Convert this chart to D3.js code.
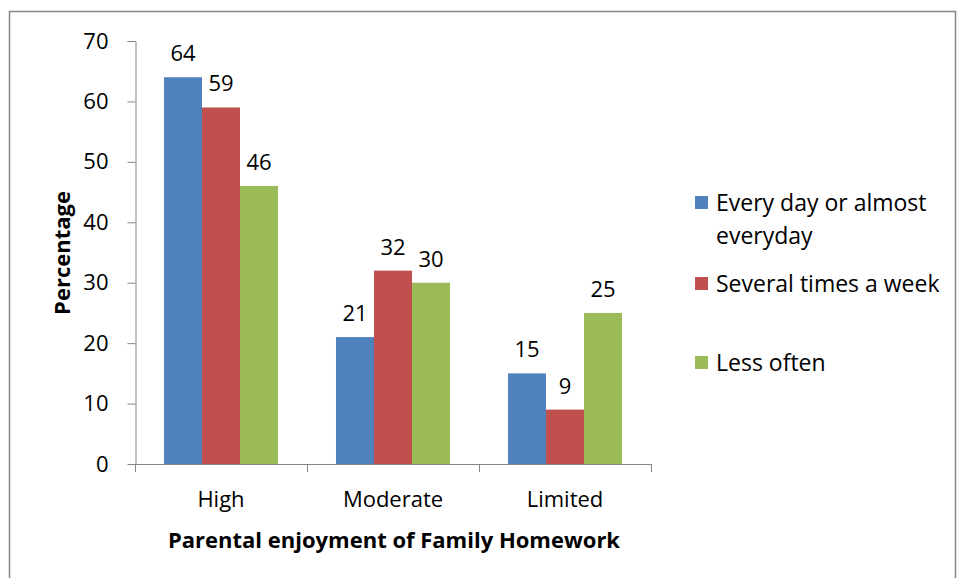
<!DOCTYPE html>
<html><head><meta charset="utf-8">
<script src="https://cdn.jsdelivr.net/npm/d3@7"></script>
<style>body{margin:0;background:#fff}text{font-family:"Open Sans",sans-serif}</style>
</head><body><svg id="c" width="959" height="578"></svg>
<script>
const categories = ["High","Moderate","Limited"];
const seriesNames = ["Every day or almost everyday","Several times a week","Less often"];
const everyDay = [64,21,15];
const severalTimes = [59,32,9];
const lessOften = [46,30,25];
const yTicks = [0,10,20,30,40,50,60,70];
const colors = ["#4F81BD","#C0504D","#9BBB59"];
const series = [everyDay, severalTimes, lessOften];

const svg = d3.select("#c");
svg.append("rect").attr("x",9.5).attr("y",11.5).attr("width",946).attr("height",580)
  .attr("fill","none").attr("stroke","#868686").attr("stroke-width",1.5);

const x0 = d3.scaleBand().domain(categories).range([135,651]).paddingInner(0.337).paddingOuter(0.1685);
const x1 = d3.scaleBand().domain([0,1,2]).range([0,x0.bandwidth()]);
const y = d3.scaleLinear().domain([0,70]).range([464,41]);

const yAxis = d3.axisLeft(y).tickValues(yTicks).tickSize(8).tickPadding(19);
const gy = svg.append("g").attr("transform","translate(135.5,0)").call(yAxis);
gy.selectAll("path,line").attr("stroke","#868686");
gy.select("path").attr("d","M-8,41.5H0.5V464.5");
gy.selectAll("text").attr("font-size",22).attr("fill","#000").attr("font-family","Open Sans");

// x axis
const xg = svg.append("g");
xg.append("line").attr("x1",135).attr("x2",651).attr("y1",464.5).attr("y2",464.5).attr("stroke","#868686");
const bounds = [135, ...categories.map(c=>x0(c)+x0.bandwidth()+x0.step()*x0.paddingInner()/2)];
bounds.forEach(b=>xg.append("line").attr("x1",Math.round(b)+0.5).attr("x2",Math.round(b)+0.5).attr("y1",464).attr("y2",472).attr("stroke","#868686"));
categories.forEach(c=>{
  xg.append("text").attr("x",x0(c)+x0.bandwidth()/2).attr("y",507).attr("text-anchor","middle")
    .attr("font-size",22).text(c);
});

series.forEach((vals,si)=>{
  const g = svg.append("g");
  g.selectAll("rect").data(vals).join("rect")
    .attr("x",(d,i)=>x0(categories[i])+x1(si))
    .attr("y",d=>y(d)).attr("width",x1.bandwidth()).attr("height",d=>y(0)-y(d))
    .attr("fill",colors[si]);
  g.selectAll("text").data(vals).join("text")
    .attr("x",(d,i)=>x0(categories[i])+x1(si)+x1.bandwidth()/2)
    .attr("y",d=>y(d)-16).attr("text-anchor","middle").attr("font-size",22).text(d=>d);
});

svg.append("text").attr("transform","translate(70,253) rotate(-90)").attr("text-anchor","middle")
  .attr("font-size",22).attr("font-weight","bold").text("Percentage");
svg.append("text").attr("x",394).attr("y",548).attr("text-anchor","middle")
  .attr("font-size",22).attr("font-weight","bold").text("Parental enjoyment of Family Homework");

// legend
const legLines = [["Every day or almost","everyday"],["Several times a week"],["Less often"]];
const legY = [203,284,363];
legLines.forEach((lines,i)=>{
  svg.append("rect").attr("x",695).attr("y",legY[i]-7).attr("width",13).attr("height",13).attr("fill",colors[i]);
  lines.forEach((t,j)=>{
    svg.append("text").attr("x",716).attr("y",legY[i]+8+j*33).attr("font-size",23).text(t);
  });
});
</script></body></html>
